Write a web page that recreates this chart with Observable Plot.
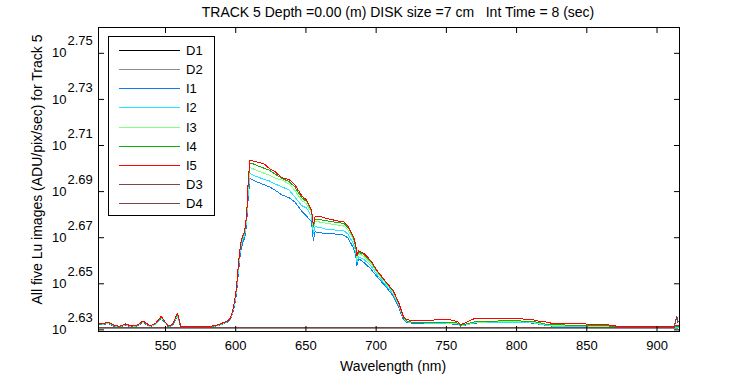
<!DOCTYPE html>
<html><head><meta charset="utf-8">
<script src="https://cdn.jsdelivr.net/npm/d3@7"></script>
<script src="https://cdn.jsdelivr.net/npm/@observablehq/plot@0.6"></script>
<style>
body{margin:0;background:#fff;font-family:"Liberation Sans",Arial,sans-serif;}
#wrap{position:relative;width:750px;height:375px;overflow:hidden;}
#legend{position:absolute;left:108px;top:36px;width:107px;height:180px;}
</style></head>
<body>
<div id="wrap"><div id="chart"></div><div id="legend"></div></div>
<script>
const titleText = "TRACK 5 Depth =0.00 (m) DISK size =7 cm\u00a0\u00a0\u00a0Int Time = 8 (sec)";
const xLabel = "Wavelength (nm)";
const yLabel = "All five Lu images (ADU/pix/sec) for Track 5";
const xTicks = [550, 600, 650, 700, 750, 800, 850, 900];
const yTickExps = [2.63, 2.65, 2.67, 2.69, 2.71, 2.73, 2.75];

const seriesNames = ["D1", "D2", "I1", "I2", "I3", "I4", "I5", "D3", "D4"];
const seriesColors = ["#000000", "#8c8c8c", "#0a7cf5", "#20e8ff", "#80ff80", "#10b010", "#ff0000", "#804848", "#7a4444"];

const wlI = [502, 505, 509, 513, 517, 521.5, 526, 530, 534, 539, 543, 547, 550, 552, 555, 558.5, 561, 565, 570, 575, 580, 584, 588, 591, 594,
  596, 597.6, 599, 600, 601, 602, 603.5, 605, 606, 607, 608, 609, 610.2,
  612.5, 616, 620, 624, 628, 633, 638, 642, 647, 650.5, 654,
  655.3, 656.5, 659, 665, 672, 677, 680, 684, 685.5, 686.3, 687.5, 691, 696, 700.5, 706, 712, 716,
  719.5, 722, 725, 740, 742, 752, 758.5, 760, 763, 767, 770, 788, 798, 811, 815, 822, 826, 844, 864, 872, 900, 912, 915];

const I5 = [429.1, 429.2, 429.9, 428.7, 428.1, 429.1, 428.2, 428.7, 430.4, 428.3, 429.4, 432.4, 429.8, 428.3, 428.9, 433.8, 427.9, 427.9, 427.9, 427.9, 428.0, 428.3, 428.9, 429.6, 430.4,
  431.4, 434.3, 438.6, 442.3, 448.3, 456.4, 465.0, 468.9, 470.2, 473.2, 481.8, 496.3, 505.5,
  505.0, 504.3, 503.7, 501.2, 499.6, 496.6, 495.7, 493.3, 487.8, 485.6, 480.8,
  473.8, 477.6, 477.9, 476.8, 475.7, 475.2, 473.2, 468.1, 464.2, 459.6, 461.6, 460.6, 457.3, 452.8, 448.3, 443.8, 438.5,
  432.1, 431.0, 430.5, 430.5, 431.1, 431.1, 429.9, 428.8, 429.5, 430.7, 431.4, 431.4, 431.5, 431.0, 430.4, 429.9, 429.2, 429.2, 428.8, 428.1, 428.1, 428.1, 428.5];

const I4 = [429.0, 429.1, 429.8, 428.6, 428.0, 429.0, 428.1, 428.6, 430.2, 428.2, 429.3, 432.1, 429.7, 428.2, 428.8, 433.3, 427.8, 427.8, 427.8, 427.8, 427.9, 428.2, 428.8, 429.5, 430.3,
  431.3, 434.1, 438.5, 442.0, 447.9, 456.0, 464.7, 468.4, 469.8, 472.7, 481.3, 495.5, 504.0,
  503.5, 502.5, 501.4, 500.4, 498.4, 496.3, 494.7, 492.1, 486.8, 484.9, 480.3,
  473.2, 476.3, 476.3, 475.7, 474.9, 474.5, 472.5, 467.4, 463.6, 459.2, 461.0, 460.1, 457.0, 452.5, 448.1, 443.4, 438.3,
  431.7, 430.4, 429.9, 429.7, 429.8, 429.7, 429.5, 428.5, 428.9, 429.5, 430.0, 430.4, 430.5, 430.2, 429.8, 428.9, 428.8, 428.5, 428.3, 428.0, 428.0, 428.0, 428.1];

const I3 = [428.9, 429.0, 429.6, 428.5, 427.9, 428.9, 428.0, 428.5, 430.1, 428.1, 429.2, 431.9, 429.6, 428.1, 428.7, 433.0, 427.8, 427.7, 427.7, 427.8, 427.9, 428.1, 428.7, 429.4, 430.2,
  431.2, 433.9, 438.0, 441.6, 447.4, 455.0, 464.0, 467.9, 469.1, 471.7, 480.3, 493.5, 501.6,
  501.0, 500.0, 498.9, 497.9, 496.4, 495.5, 493.5, 490.5, 485.4, 483.7, 479.4,
  472.3, 475.2, 475.2, 474.5, 473.7, 473.2, 471.3, 466.6, 462.6, 458.2, 460.4, 459.2, 456.1, 451.8, 447.6, 442.9, 437.8,
  431.5, 430.2, 429.8, 429.6, 429.6, 429.5, 429.4, 428.4, 428.7, 429.4, 429.8, 430.1, 430.2, 429.9, 429.5, 428.7, 428.5, 428.3, 428.1, 427.8, 427.8, 427.8, 427.9];

const I2 = [428.8, 428.9, 429.5, 428.4, 427.8, 428.8, 427.9, 428.4, 430.0, 428.0, 429.1, 431.7, 429.5, 428.0, 428.6, 432.7, 427.7, 427.7, 427.6, 427.7, 427.8, 428.1, 428.6, 429.3, 430.1,
  431.1, 433.7, 437.6, 440.9, 446.5, 454.1, 463.3, 467.0, 468.4, 470.8, 478.9, 490.5, 498.8,
  497.9, 496.9, 495.9, 495.0, 493.5, 492.1, 490.5, 487.2, 483.0, 481.8, 477.9,
  469.8, 472.8, 472.7, 471.6, 471.3, 471.0, 469.4, 464.7, 461.0, 456.5, 458.8, 457.8, 455.0, 450.9, 446.7, 442.2, 437.2,
  431.3, 430.0, 429.7, 429.4, 429.4, 429.4, 429.1, 428.3, 428.6, 429.1, 429.6, 429.8, 429.9, 429.7, 429.2, 428.5, 428.2, 428.1, 427.9, 427.7, 427.7, 427.7, 427.7];

const I1 = [428.6, 428.8, 429.3, 428.2, 427.7, 428.6, 427.8, 428.3, 429.8, 427.9, 429.0, 431.5, 429.4, 427.9, 428.5, 432.4, 427.6, 427.6, 427.6, 427.6, 427.7, 428.0, 428.5, 429.2, 429.9,
  430.9, 433.2, 436.7, 439.8, 445.1, 452.3, 461.5, 465.4, 467.0, 469.4, 477.0, 487.6, 496.3,
  495.5, 494.3, 493.2, 492.1, 490.5, 488.1, 486.8, 484.8, 480.3, 477.9, 475.2,
  466.6, 470.5, 470.1, 469.7, 469.4, 468.9, 467.5, 462.7, 459.2, 455.0, 458.1, 456.4, 453.5, 450.0, 446.0, 441.4, 436.3,
  430.9, 429.8, 429.5, 429.2, 429.2, 429.2, 428.9, 428.2, 428.5, 429.1, 429.5, 429.7, 429.8, 429.5, 429.1, 428.4, 428.1, 428.0, 427.8, 427.6, 427.6, 427.6, 427.7];

const wlD = [502, 550, 600, 650, 700, 750, 800, 850, 900, 912, 914, 915];
const D1 = [427.2, 427.3, 427.2, 427.2, 427.3, 427.2, 427.2, 427.3, 427.2, 427.2, 427.3, 427.4];
const D2 = [427.1, 427.2, 427.1, 427.2, 427.1, 427.2, 427.1, 427.2, 427.1, 427.2, 427.2, 427.3];
const D3 = [427.4, 427.4, 427.5, 427.4, 427.4, 427.5, 427.4, 427.4, 427.5, 427.4, 432.4, 430.0];
const D4 = [427.4, 427.5, 427.4, 427.4, 427.5, 427.4, 427.4, 427.5, 427.4, 427.4, 432.0, 429.5];

const seriesData = {D1: [wlD, D1], D2: [wlD, D2], I1: [wlI, I1], I2: [wlI, I2], I3: [wlI, I3], I4: [wlI, I4], I5: [wlI, I5], D3: [wlD, D3], D4: [wlD, D4]};
const rows = [];
for (const name of seriesNames) {
  const [xs, ys] = seriesData[name];
  xs.forEach((w, i) => rows.push({series: name, wl: w, v: ys[i]}));
}

const yTickVals = yTickExps.map(e => Math.pow(10, e));

const chart = Plot.plot({
  width: 750,
  height: 375,
  marginLeft: 98,
  marginRight: 71,
  marginTop: 27,
  marginBottom: 44,
  style: {fontFamily: '"Liberation Sans", Arial, sans-serif', background: "#fff", color: "#000"},
  x: {domain: [502.3, 916]},
  y: {type: "log", domain: [Math.pow(10, 2.6293), Math.pow(10, 2.7612)]},
  color: {domain: seriesNames, range: seriesColors},
  marks: [
    Plot.line(rows, {x: "wl", y: "v", z: "series", stroke: "series", strokeWidth: 1, clip: true, shapeRendering: "crispEdges"}),
    Plot.frame({stroke: "#000", strokeWidth: 1}),
    Plot.axisX({ticks: xTicks, anchor: "bottom", tickSize: 5, dy: -5, tickFormat: () => "", label: null}),
    Plot.axisX({ticks: xTicks, anchor: "top", tickSize: 5, dy: 5, tickFormat: () => "", label: null}),
    Plot.axisY({ticks: yTickVals, anchor: "left", tickSize: 6, dx: 6, tickFormat: () => "", label: null}),
    Plot.axisY({ticks: yTickVals, anchor: "right", tickSize: 6, dx: -6, tickFormat: () => "", label: null}),
    Plot.text(xTicks, {x: d => d, frameAnchor: "bottom", dy: 14.5, text: d => String(d), fontSize: 13, lineAnchor: "middle", textAnchor: "middle"}),
    Plot.text(yTickExps, {y: d => Math.pow(10, d), frameAnchor: "left", dx: -32, text: () => "10", textAnchor: "end", fontSize: 13, lineAnchor: "middle"}),
    Plot.text(yTickExps, {y: d => Math.pow(10, d), frameAnchor: "left", dx: -31, dy: -12, text: d => d.toFixed(2), textAnchor: "start", fontSize: 13, lineAnchor: "middle"}),
    Plot.text([titleText], {frameAnchor: "top", dy: -15, dx: 9, text: d => d, fontSize: 14, lineAnchor: "middle", textAnchor: "middle"}),
    Plot.text([xLabel], {frameAnchor: "bottom", dy: 35, dx: 4, text: d => d, fontSize: 14, lineAnchor: "middle", textAnchor: "middle"}),
    Plot.text([yLabel], {frameAnchor: "left", dx: -60.5, dy: -10, rotate: -90, text: d => d, fontSize: 14, lineAnchor: "middle", textAnchor: "middle"})
  ]
});
document.getElementById("chart").appendChild(chart);

// Legend box (HTML overlay holding a small SVG)
const lg = d3.select("#legend").append("svg")
  .attr("width", 107).attr("height", 180)
  .style("font-family", '"Liberation Sans", Arial, sans-serif');
lg.append("rect").attr("x", 0.5).attr("y", 0.5).attr("width", 106).attr("height", 179)
  .attr("fill", "#fff").attr("stroke", "#000").attr("shape-rendering", "crispEdges");
seriesNames.forEach((name, i) => {
  const cy = Math.round(14 + 19.15 * i) + 0.5;
  lg.append("line").attr("x1", 11).attr("x2", 72).attr("y1", cy).attr("y2", cy)
    .attr("stroke", seriesColors[i]).attr("stroke-width", 1).attr("shape-rendering", "crispEdges");
  lg.append("text").attr("x", 78).attr("y", cy).attr("dy", "0.35em")
    .attr("font-size", 13).attr("fill", "#000").text(name);
});
</script>
</body></html>
